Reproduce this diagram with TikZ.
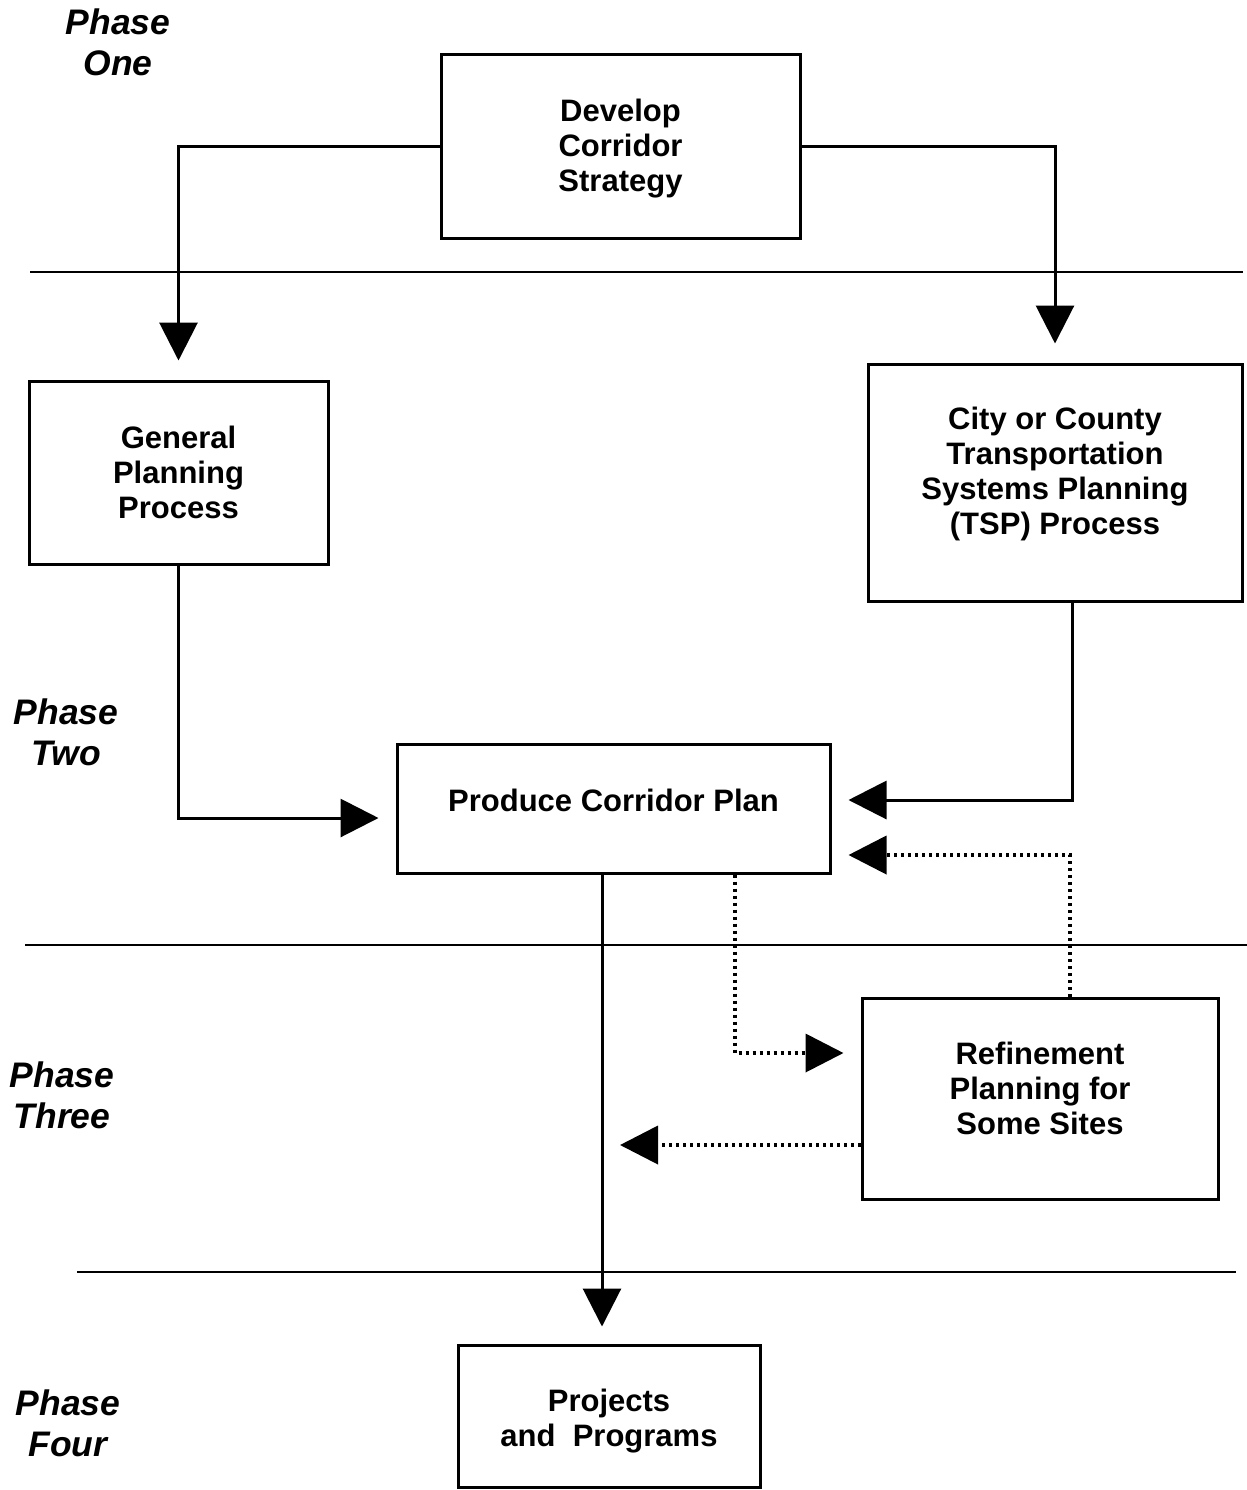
\documentclass[tikz,border=0pt]{standalone}
\usepackage{fontspec}
\setmainfont{Liberation Sans}
\usetikzlibrary{arrows.meta}
\tikzset{
  box/.style={draw, line width=1.5pt, rectangle, inner sep=0pt},
  boxtxt/.style={font=\fontsize{15.5pt}{17.5pt}\selectfont\bfseries, align=center, inner sep=0pt},
  phase/.style={font=\fontsize{17.75pt}{20.5pt}\selectfont\bfseries\itshape, align=center, inner sep=0pt},
  arr/.style={line width=1.5pt, -{Triangle[length=19pt,width=19pt]}, shorten >=8.5pt},
  dots/.style={arr, line width=1.9pt, dash pattern=on 1.5pt off 2pt},
  divider/.style={line width=1.3pt}
}
\begin{document}
\begin{tikzpicture}[x=0.5pt,y=-0.5pt]
\useasboundingbox (0,0) rectangle (1247,1490);

% phase labels
\node[phase] (p1) at (118,42.5) {Phase\\One};
\node[phase] (p2) at (66,732) {Phase\\Two};
\node[phase] (p3) at (62,1095) {Phase\\Three};
\node[phase] (p4) at (68,1423.5) {Phase\\Four};

% dividers
\draw[divider] (30,272) -- (1243,272);
\draw[divider] (25,945) -- (1247,945);
\draw[divider] (77,1272) -- (1236,1272);

% boxes
\node[box, minimum width=179.5pt, minimum height=92pt,
  label={[boxtxt, yshift=-1.5pt]center:Develop\\Corridor\\Strategy}] (dev) at (620.5,146) {};
\node[box, minimum width=149.5pt, minimum height=91.5pt,
  label={[boxtxt]center:General\\Planning\\Process}] (gpp) at (178.5,472.5) {};
\node[box, minimum width=187pt, minimum height=118.5pt,
  label={[boxtxt, yshift=4.5pt]center:City or County\\Transportation\\Systems Planning\\(TSP) Process}] (city) at (1055,482.5) {};
\node[box, minimum width=216.5pt, minimum height=64.5pt,
  label={[boxtxt, yshift=4.25pt]center:Produce Corridor Plan}] (prod) at (613.5,808.5) {};
\node[box, minimum width=178pt, minimum height=100.5pt,
  label={[boxtxt, yshift=5.25pt]center:Refinement\\Planning for\\Some Sites}] (ref) at (1040,1098.5) {};
\node[box, minimum width=151pt, minimum height=71pt,
  label={[boxtxt, yshift=-2.5pt]center:Projects\\and\ \ Programs}] (proj) at (609,1416) {};

% helper coordinates
\coordinate (xA) at (1072,800);
\coordinate (xB) at (1070,855);
\coordinate (xC) at (735,1053);
\coordinate (xD) at (602,1145);
\coordinate (xE) at (178,818);

% connectors
\draw[arr, shorten >=9.5pt] (dev.west) -| (gpp.north);
\draw[arr, shorten >=9.5pt] (dev.east) -| (city.north);
\draw[arr] (gpp.south) |- (prod.west |- xE);
\draw[arr] (city.south -| xA) |- (prod.east |- xA);
\draw[dots] (ref.north -| xB) |- (prod.east |- xB);
\draw[dots] (prod.south -| xC) |- (ref.west |- xC);
\draw[dots, shorten >=9pt] (ref.west |- xD) -- (xD);
\draw[arr] (prod.south -| xD) -- (proj.north -| xD);
\end{tikzpicture}
\end{document}
